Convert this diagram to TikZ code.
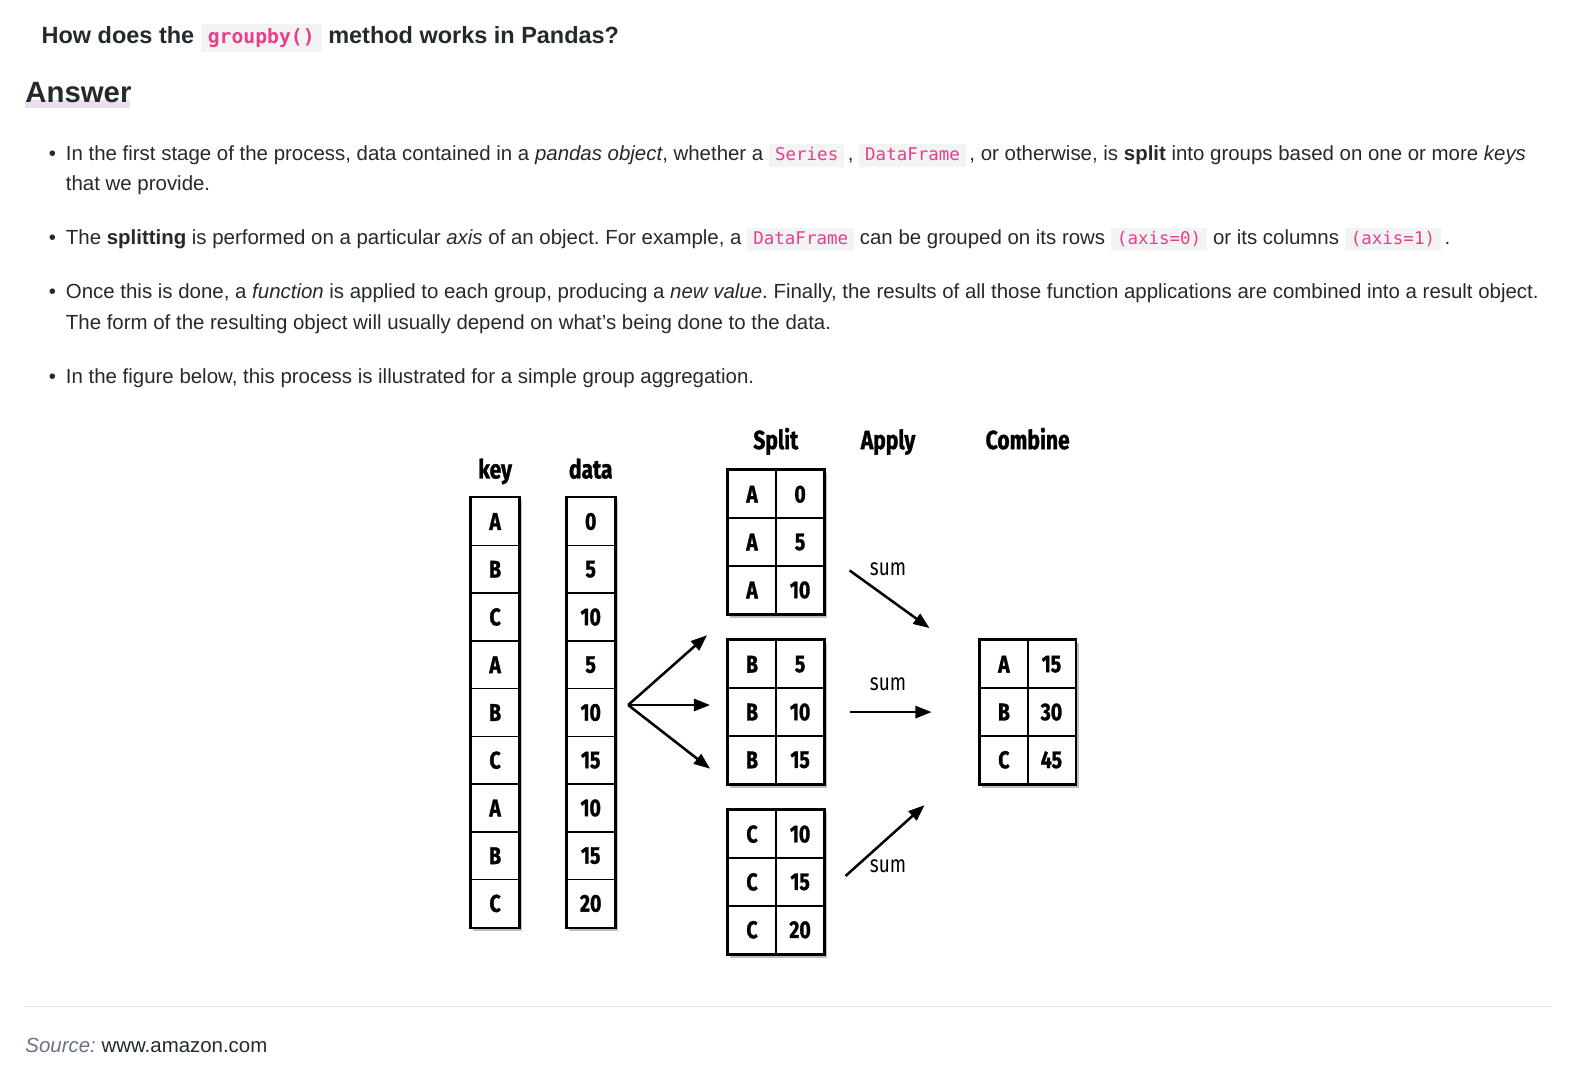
\documentclass[tikz,border=0pt]{standalone}
\usepackage{fontspec}
\setmainfont{Liberation Sans}
\newfontfamily\codefont{DejaVu Sans Mono}
\newfontfamily\diagfont[FakeStretch=0.8]{Fira Sans}
\usetikzlibrary{arrows.meta,positioning,calc,fit,backgrounds,shadows}
\definecolor{ink}{HTML}{24292E}
\definecolor{codepink}{HTML}{E83E8C}
\definecolor{codebg}{HTML}{F2F3F3}
\definecolor{rulegray}{HTML}{E4E4E4}
\definecolor{srcgray}{HTML}{6A737D}
\definecolor{hilite}{HTML}{EADFF0}
\newcommand{\code}[1]{{\setlength{\fboxsep}{3.5pt}\colorbox{codebg}{\hspace{2.5pt}\codefont\fontsize{17.3}{20}\selectfont\color{codepink}\vphantom{(}#1\hspace{2.5pt}}}}
\newcommand{\bigcode}[1]{{\setlength{\fboxsep}{4pt}\colorbox{codebg}{\hspace{3pt}\codefont\bfseries\fontsize{19.5}{22}\selectfont\color{codepink}\vphantom{(}#1\hspace{3pt}}}}
\tikzset{
  para/.style={anchor=base west, font=\fontsize{20.2}{24}\selectfont, text=ink, inner sep=0pt},
  cell/.style={draw, line width=1.6pt, minimum width=47.3pt, minimum height=47.2pt, inner sep=0pt, font=\diagfont\bfseries\addfontfeatures{FakeBold=1.2}\fontsize{24}{26}\selectfont},
  frame/.style={draw, line width=2.6pt, fill=white, inner sep=0pt, drop shadow={shadow xshift=2.5pt, shadow yshift=-3pt, opacity=0.5}},
  head/.style={anchor=base, font=\diagfont\bfseries\addfontfeatures{FakeBold=1.2}\fontsize{26}{28}\selectfont, inner sep=0pt},
  sumlabel/.style={font=\diagfont\fontsize{23.5}{25}\selectfont, inner sep=0pt},
  flow/.style={-{Triangle[length=16pt,width=12pt]}, line width=2.5pt}
}

\begin{document}
\frenchspacing
\begin{tikzpicture}[x=1pt, y=1pt]
  \useasboundingbox (0,0) rectangle (1568,-1062);

  % question and heading
  \node[para, font=\bfseries\fontsize{23.2}{26}\selectfont] (question) at (41,-43) {How does the \bigcode{groupby()} method works in Pandas?};
  \fill[hilite] (25,-99) rectangle (129,-107);
  \node[para, font=\bfseries\fontsize{29}{32}\selectfont] (answer) at (25,-101) {Answer};

  % bullets
  \foreach \yy in {159,242,295,379}
    \node[para] at (48,-\yy) {\textbullet};
  \node[para] (b1a) at (65,-159) {In the first stage of the process, data contained in a \emph{pandas object}, whether a \code{Series}\,, \code{DataFrame}\,, or otherwise, is \textbf{split} into groups based on one or more \emph{keys}};
  \node[para] (b1b) at (65,-188) {that we provide.};
  \node[para] (b2) at (65,-242) {The \textbf{splitting} is performed on a particular \emph{axis} of an object. For example, a \code{DataFrame} can be grouped on its rows \code{(axis=0)} or its columns \code{(axis=1)}\,.};
  \node[para] (b3a) at (65,-295) {Once this is done, a \emph{function} is applied to each group, producing a \emph{new value}. Finally, the results of all those function applications are combined into a result object.};
  \node[para] (b3b) at (65,-326) {The form of the resulting object will usually depend on what's being done to the data.};
  \node[para] (b4) at (65,-379) {In the figure below, this process is illustrated for a simple group aggregation.};

  % key and data columns
  \foreach \k/\v [count=\r] in {A/0,B/5,C/10,A/5,B/10,C/15,A/10,B/15,C/20} {
    \node[cell] (key\r) at (489.5,{-515.6-(\r-1)*47.2}) {\k};
    \node[cell] (data\r) at (584,{-515.6-(\r-1)*47.2}) {\v};
  }
  \begin{scope}[on background layer]
    \node[frame, fit=(key1)(key9)] (keycol) {};
    \node[frame, fit=(data1)(data9)] (datacol) {};
  \end{scope}
  \node[head] (keyhead) at (489.5,-473) {key};
  \node[head] (datahead) at (584,-473) {data};

  % split groups
  \foreach \g/\ytop/\k/\va/\vb/\vc in {sa/465/A/0/5/10, sb/633/B/5/10/15, sc/801/C/10/15/20} {
    \foreach \v [count=\r] in {\va,\vb,\vc} {
      \node[cell] (\g-k\r) at (743.5,{-\ytop-23.65-(\r-1)*47.3}) {\k};
      \node[cell] (\g-v\r) at (791,{-\ytop-23.65-(\r-1)*47.3}) {\v};
    }
    \begin{scope}[on background layer]
      \node[frame, fit=(\g-k1)(\g-v3)] (\g) {};
    \end{scope}
  }

  % combined result
  \foreach \k/\v [count=\r] in {A/15,B/30,C/45} {
    \node[cell] (res-k\r) at (992.5,{-656.65-(\r-1)*47.3}) {\k};
    \node[cell] (res-v\r) at (1039.5,{-656.65-(\r-1)*47.3}) {\v};
  }
  \begin{scope}[on background layer]
    \node[frame, fit=(res-k1)(res-v3)] (res) {};
  \end{scope}

  % stage titles
  \node[head] (splithead) at (767,-444) {Split};
  \node[head] (applyhead) at (878,-444) {Apply};
  \node[head] (combinehead) at (1016,-444) {Combine};

  % split arrows
  \coordinate (fork) at (621,-697);
  \coordinate (toA) at (699,-628);
  \coordinate (toB) at (702,-697);
  \coordinate (toC) at (702,-760);
  \draw[flow] (fork) -- (toA);
  \draw[flow] (fork) -- (toB);
  \draw[flow] (fork) -- (toC);

  % apply arrows
  \coordinate (sumAin) at (840,-564);
  \coordinate (sumAout) at (919,-621);
  \coordinate (sumBin) at (840,-704);
  \coordinate (sumBout) at (921,-704);
  \coordinate (sumCin) at (836,-866);
  \coordinate (sumCout) at (914,-796);
  \draw[flow] (sumAin) -- (sumAout);
  \draw[flow] (sumBin) -- (sumBout);
  \draw[flow] (sumCin) -- (sumCout);
  \node[sumlabel] (sumA) at (878,-563) {sum};
  \node[sumlabel] (sumB) at (878,-676) {sum};
  \node[sumlabel] (sumC) at (878,-856) {sum};

  % footer
  \draw[rulegray, line width=1.5pt] (25,-995) -- (1533,-995);
  \node[para] (source) at (25,-1041) {\textcolor{srcgray}{\itshape Source:} www.amazon.com};
\end{tikzpicture}
\end{document}
